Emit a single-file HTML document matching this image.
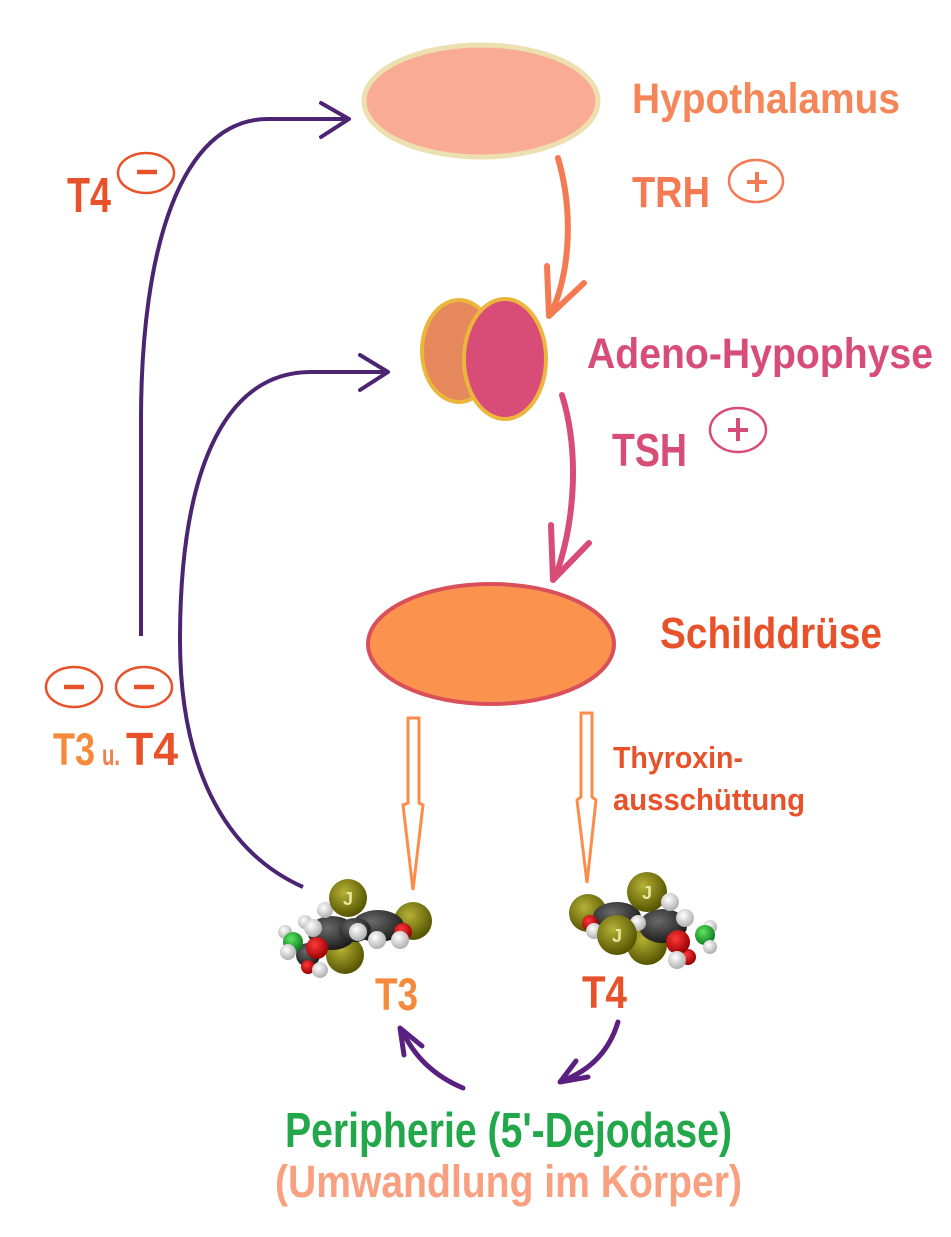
<!DOCTYPE html>
<html><head><meta charset="utf-8"><style>
html,body{margin:0;padding:0;background:#fff;}
svg{display:block;}
text{font-family:"Liberation Sans",Arial,sans-serif;font-weight:bold;}
</style></head><body>
<svg width="951" height="1237" viewBox="0 0 951 1237" xmlns="http://www.w3.org/2000/svg">
<defs>
<radialGradient id="gI" cx="40%" cy="35%" r="65%"><stop offset="0" stop-color="#b5b236"/><stop offset="1" stop-color="#565400"/></radialGradient>
<radialGradient id="gC" cx="40%" cy="35%" r="65%"><stop offset="0" stop-color="#6a6a6a"/><stop offset="1" stop-color="#1c1c1c"/></radialGradient>
<radialGradient id="gH" cx="40%" cy="35%" r="65%"><stop offset="0" stop-color="#ffffff"/><stop offset="1" stop-color="#b0b0b0"/></radialGradient>
<radialGradient id="gO" cx="40%" cy="35%" r="65%"><stop offset="0" stop-color="#ff3a3a"/><stop offset="1" stop-color="#9a0000"/></radialGradient>
<radialGradient id="gN" cx="40%" cy="35%" r="65%"><stop offset="0" stop-color="#5ee860"/><stop offset="1" stop-color="#0e7a20"/></radialGradient>
</defs>

<!-- Hypothalamus -->
<ellipse cx="481" cy="101" rx="117" ry="56" fill="#f9ab94" stroke="#ede0b0" stroke-width="5"/>
<text x="632" y="113" font-size="43" fill="#f5865a" textLength="268" lengthAdjust="spacingAndGlyphs">Hypothalamus</text>
<text x="632" y="207" font-size="44" fill="#f47a54" textLength="78" lengthAdjust="spacingAndGlyphs">TRH</text>
<ellipse cx="756" cy="181" rx="27" ry="21" fill="none" stroke="#f47a54" stroke-width="2.5"/>
<path d="M747,182 H767 M757,172 V192" stroke="#f47a54" stroke-width="4" fill="none"/>

<!-- TRH arrow -->
<path d="M558,158 C573,210 571,270 551,314" stroke="#f47a54" stroke-width="6" fill="none" stroke-linecap="round"/>
<path d="M547,266 L549,316 L584,283" stroke="#f47a54" stroke-width="6" fill="none" stroke-linecap="round" stroke-linejoin="round"/>

<!-- Adeno-Hypophyse -->
<ellipse cx="459" cy="351" rx="37" ry="51" fill="#e5895c" stroke="#ecb63c" stroke-width="4"/>
<ellipse cx="505" cy="359" rx="41" ry="60" fill="#d84c78" stroke="#ecb63c" stroke-width="4"/>
<text x="587" y="368" font-size="43" fill="#d84c78" textLength="346" lengthAdjust="spacingAndGlyphs">Adeno-Hypophyse</text>
<text x="612" y="466" font-size="46" fill="#d84c78" textLength="75" lengthAdjust="spacingAndGlyphs">TSH</text>
<ellipse cx="738" cy="430" rx="28" ry="22" fill="none" stroke="#d84c78" stroke-width="2.5"/>
<path d="M728,430 H748 M738,418 V441" stroke="#d84c78" stroke-width="4" fill="none"/>

<!-- TSH arrow -->
<path d="M562,395 C579,450 576,520 555,578" stroke="#d84c78" stroke-width="6" fill="none" stroke-linecap="round"/>
<path d="M551,525 L553,580 L589,543" stroke="#d84c78" stroke-width="6" fill="none" stroke-linecap="round" stroke-linejoin="round"/>

<!-- Schilddruese -->
<ellipse cx="491" cy="644" rx="123" ry="60" fill="#fb934f" stroke="#d9505a" stroke-width="4"/>
<text x="660" y="648" font-size="44" fill="#e8522a" textLength="222" lengthAdjust="spacingAndGlyphs">Schilddrüse</text>

<!-- Hollow arrows -->
<polygon points="408,718 419,718 419,803 423,805 413,890 403,805 408,803" fill="#fff" stroke="#fb8c4a" stroke-width="3" stroke-linejoin="miter"/>
<polygon points="581,713 592,713 592,797 596,800 587,883 577,800 581,797" fill="#fff" stroke="#fb8c4a" stroke-width="3" stroke-linejoin="miter"/>
<text x="613" y="768" font-size="31" fill="#e8522a" textLength="130" lengthAdjust="spacingAndGlyphs">Thyroxin-</text>
<text x="613" y="810" font-size="31" fill="#e8522a" textLength="192" lengthAdjust="spacingAndGlyphs">ausschüttung</text>

<!-- Purple feedback curves -->
<path d="M141,636 L141,420 C141,250 180,119 268,119 L347,119" stroke="#4b2472" stroke-width="4" fill="none"/>
<path d="M321,103 L349,119 L321,137" stroke="#4b2472" stroke-width="4" fill="none" stroke-linecap="round" stroke-linejoin="round"/>
<path d="M303,887 C220,850 180,760 180,640 C180,480 220,372 311,372 L386,372" stroke="#4b2472" stroke-width="4" fill="none"/>
<path d="M360,355 L388,372 L360,390" stroke="#4b2472" stroke-width="4" fill="none" stroke-linecap="round" stroke-linejoin="round"/>

<!-- Left labels -->
<text x="67" y="212" font-size="49" fill="#e8522a" textLength="44" lengthAdjust="spacingAndGlyphs">T4</text>
<ellipse cx="146" cy="173" rx="28" ry="20" fill="none" stroke="#e8522a" stroke-width="2.5"/>
<path d="M137,172 H157" stroke="#e8522a" stroke-width="4.5"/>

<ellipse cx="74" cy="687" rx="28" ry="20" fill="none" stroke="#e8522a" stroke-width="2.5"/>
<path d="M64,687 H84" stroke="#e8522a" stroke-width="4.5"/>
<ellipse cx="144" cy="687" rx="28" ry="20" fill="none" stroke="#e8522a" stroke-width="2.5"/>
<path d="M134,687 H154" stroke="#e8522a" stroke-width="4.5"/>
<text x="53" y="765" font-size="45" fill="#f58a3c" textLength="42" lengthAdjust="spacingAndGlyphs">T3</text>
<text x="102" y="765" font-size="30" fill="#f08050" textLength="18" lengthAdjust="spacingAndGlyphs">u.</text>
<text x="126" y="765" font-size="46" fill="#e8522a" textLength="52" lengthAdjust="spacingAndGlyphs">T4</text>

<!-- T3 molecule -->
<g>
<circle cx="345" cy="955" r="19" fill="url(#gI)"/>
<circle cx="413" cy="921" r="19" fill="url(#gI)"/>
<ellipse cx="332" cy="933" rx="24" ry="17" fill="url(#gC)"/>
<ellipse cx="378" cy="926" rx="26" ry="16" fill="url(#gC)"/>
<ellipse cx="355" cy="930" rx="16" ry="12" fill="url(#gC)"/>
<circle cx="308" cy="955" r="12" fill="url(#gC)"/>
<circle cx="308" cy="967" r="7" fill="url(#gO)"/>
<circle cx="320" cy="970" r="8" fill="url(#gH)"/>
<circle cx="285" cy="932" r="7" fill="url(#gH)"/>
<circle cx="293" cy="942" r="10" fill="url(#gN)"/>
<circle cx="288" cy="952" r="8" fill="url(#gH)"/>
<circle cx="305" cy="922" r="7" fill="url(#gH)"/>
<circle cx="313" cy="928" r="9" fill="url(#gH)"/>
<circle cx="317" cy="948" r="11" fill="url(#gO)"/>
<circle cx="325" cy="910" r="8" fill="url(#gH)"/>
<circle cx="348" cy="898" r="19" fill="url(#gI)"/>
<text x="348" y="905" font-size="18" fill="#e8e8a0" text-anchor="middle">J</text>
<circle cx="403" cy="932" r="9" fill="url(#gO)"/>
<circle cx="358" cy="932" r="9" fill="url(#gH)"/>
<circle cx="377" cy="940" r="9" fill="url(#gH)"/>
<circle cx="400" cy="940" r="9" fill="url(#gH)"/>
</g>

<!-- T4 molecule -->
<g>
<circle cx="588" cy="913" r="19" fill="url(#gI)"/>
<circle cx="647" cy="945" r="20" fill="url(#gI)"/>
<ellipse cx="617" cy="917" rx="24" ry="15" fill="url(#gC)"/>
<ellipse cx="663" cy="926" rx="24" ry="17" fill="url(#gC)"/>
<circle cx="590" cy="923" r="8" fill="url(#gO)"/>
<circle cx="594" cy="931" r="8" fill="url(#gH)"/>
<circle cx="647" cy="892" r="20" fill="url(#gI)"/>
<text x="647" y="899" font-size="18" fill="#e8e8a0" text-anchor="middle">J</text>
<circle cx="670" cy="902" r="9" fill="url(#gH)"/>
<circle cx="685" cy="918" r="9" fill="url(#gH)"/>
<circle cx="638" cy="923" r="8" fill="url(#gH)"/>
<circle cx="617" cy="935" r="20" fill="url(#gI)"/>
<text x="617" y="942" font-size="18" fill="#e8e8a0" text-anchor="middle">J</text>
<circle cx="710" cy="927" r="7" fill="url(#gH)"/>
<circle cx="705" cy="935" r="10" fill="url(#gN)"/>
<circle cx="710" cy="947" r="7" fill="url(#gH)"/>
<circle cx="688" cy="957" r="8" fill="url(#gO)"/>
<circle cx="678" cy="942" r="12" fill="url(#gO)"/>
<circle cx="677" cy="960" r="9" fill="url(#gH)"/>
</g>

<text x="375" y="1010" font-size="45" fill="#f58a3c" textLength="43" lengthAdjust="spacingAndGlyphs">T3</text>
<text x="582" y="1008" font-size="45" fill="#e8522a" textLength="45" lengthAdjust="spacingAndGlyphs">T4</text>

<!-- Bottom purple arrows -->
<path d="M463,1088 Q420,1070 402,1030" stroke="#5a2080" stroke-width="5" fill="none" stroke-linecap="round"/>
<path d="M404,1055 L400,1028 L422,1046" stroke="#5a2080" stroke-width="5" fill="none" stroke-linecap="round" stroke-linejoin="round"/>
<path d="M618,1022 Q605,1065 562,1081" stroke="#5a2080" stroke-width="5" fill="none" stroke-linecap="round"/>
<path d="M576,1061 L560,1082 L588,1077" stroke="#5a2080" stroke-width="5" fill="none" stroke-linecap="round" stroke-linejoin="round"/>

<text x="285" y="1147" font-size="49" fill="#22a84a" textLength="447" lengthAdjust="spacingAndGlyphs">Peripherie (5'-Dejodase)</text>
<text x="275" y="1197" font-size="45" fill="#f9a080" textLength="467" lengthAdjust="spacingAndGlyphs">(Umwandlung im Körper)</text>
</svg>
</body></html>
